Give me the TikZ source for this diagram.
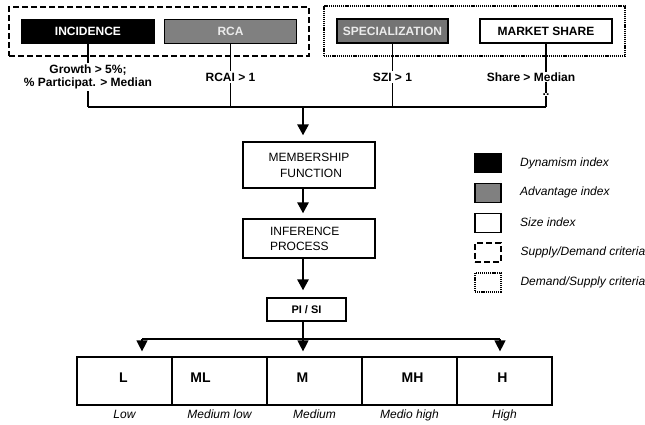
\documentclass[tikz,border=0pt]{standalone}
\usepackage{fontspec}
\setmainfont{Liberation Sans}
\usetikzlibrary{positioning,arrows.meta,fit}
\definecolor{advgray}{HTML}{808080}
\definecolor{specgray}{HTML}{747474}
\tikzset{%
  index box/.style={
    draw,
    line width=1.2pt,
    minimum width=132pt,
    minimum height=24pt,
    inner sep=0pt,
    font=\fontsize{12}{14}\selectfont\bfseries
  },
  dynamism/.style={fill=black, text=white},
  advantage/.style={fill=advgray, text=white!92!black},
  size index/.style={fill=white},
  supply demand/.style={draw, line width=2pt, dash pattern=on 6pt off 3pt},
  demand supply/.style={draw, line width=1.8pt, dash pattern=on 1.2pt off 0.9pt},
  stage box/.style={
    draw,
    line width=1.2pt,
    minimum width=132pt,
    font=\fontsize{12}{16}\selectfont
  },
  rule text/.style={
    fill=white,
    inner sep=1.5pt,
    align=center,
    font=\fontsize{12}{13}\selectfont\bfseries
  },
  legend key/.style={draw, line width=1.2pt, minimum width=26pt, minimum height=19pt, inner sep=0pt},
  legend text/.style={inner sep=0pt, font=\fontsize{12}{14}\selectfont\itshape},
  level box/.style={draw, line width=1.2pt, minimum width=95pt, minimum height=48pt, inner sep=0pt},
  level letter/.style={inner sep=0pt, font=\fontsize{14}{16}\selectfont\bfseries},
  level name/.style={inner sep=1pt, font=\fontsize{12}{14}\selectfont\itshape},
}

\begin{document}
\begin{tikzpicture}[x=1pt, y=-1pt, line width=1.2pt,
  >={Triangle[length=11pt,width=11pt]}]

\useasboundingbox (0,0) rectangle (645,425);

% index boxes
\node [index box, dynamism] (incidence) at (88,31.5) {INCIDENCE};
\node [index box, advantage] (rca) at (230.5,31.5) {RCA};
\node [index box, advantage, fill=specgray, minimum width=111pt] (special) at (392.5,31) {SPECIALIZATION};
\node [index box, size index] (market) at (546,31) {MARKET SHARE};

\node [supply demand, fit=(incidence)(rca), inner sep=12pt] (supply-group) {};
\node [demand supply, fit=(special)(market), inner sep=12.5pt] (demand-group) {};

\coordinate (bus) at (0,107);
\coordinate (join) at (303,107);

\foreach \b in {incidence,rca,special,market}
  \draw (\b.south) -- (\b.south |- bus);
\draw (incidence.south |- bus) -- (market.south |- bus);

\node [rule text] (growth) at (88,77) {Growth > 5\%;\\\% Participat. > Median};
\node [rule text] (rcai) at (230.5,77) {RCAI > 1};
\node [rule text] (szi) at (392.5,77) {SZI > 1};
\node [rule text, inner sep=1pt] (share) at (531,77) {Share > Median};
\node [rule text, inner sep=0.5pt, text height=2pt, text depth=0pt] (dots) at (546,95) {..};

% process
\node [stage box, align=center, minimum height=46pt] (membership) at (309,165)
  {MEMBERSHIP\\\hspace*{4pt}FUNCTION};
\node [stage box, align=left, minimum height=39pt, text width=78pt, inner xsep=27pt,
  font=\fontsize{12}{15}\selectfont] (inference) at (309,238.5)
  {INFERENCE\\PROCESS};
\node [stage box, minimum width=79pt, minimum height=23pt, inner sep=0pt,
  font=\fontsize{11}{13}\selectfont\bfseries] (pisi) at (306.5,309.5) {PI / SI};

\draw [->, line width=2.6pt, shorten >=6pt] (join) -- (join |- membership.north);
\draw [->, line width=2.6pt, shorten >=5pt] (membership.south -| join) -- (inference.north -| join);
\draw [->, line width=2.6pt, shorten >=7pt] (inference.south -| join) -- (pisi.north -| join);

% levels
\foreach \b/\n/\d [count=\i] in {L/Low/-1, ML/{Medium low}/-19, M/Medium/-12, MH/{Medio high}/3, H/High/-2}
{
  \node [level box, label={[level letter, xshift=\d pt, yshift=3pt]center:\b}] (lvl-\i) at (29.5+95*\i,381) {};
  \node [level name, below=3pt of lvl-\i] (lvl-name-\i) {\n};
}

\coordinate (split) at (303,339);
\coordinate (split-left) at (142,339);
\coordinate (split-right) at (500,339);

\draw (pisi.south -| split) -- (split);
\draw (split-left) -- (split-right);
\foreach \c in {split-left,split,split-right}
  \draw [->, shorten >=5pt] (\c) -- (\c |- lvl-1.north);

% legend
\foreach \s/\l [count=\i] in {dynamism/Dynamism index, advantage/Advantage index,
    size index/Size index, supply demand/{Supply/Demand criteria},
    demand supply/{Demand/Supply criteria}}
{
  \node [legend key, \s] (leg-\i) at (488,163+29.8*\i-29.8) {};
  \node [legend text, right=18pt of leg-\i] (leg-text-\i) {\l};
}

\end{tikzpicture}
\end{document}
